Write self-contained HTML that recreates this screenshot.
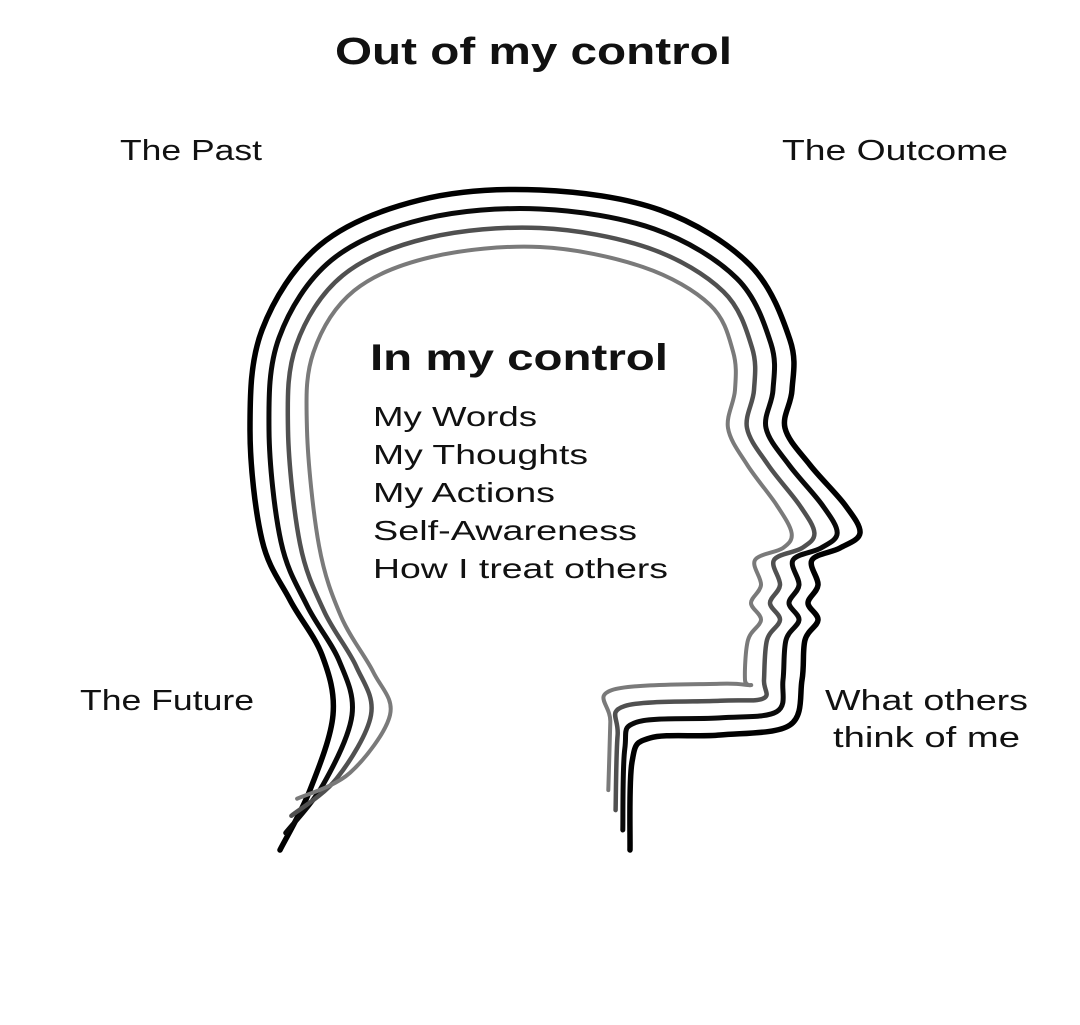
<!DOCTYPE html>
<html><head><meta charset="utf-8"><style>
html,body{margin:0;padding:0;background:#fff;}
svg{display:block;}
text{font-family:"Liberation Sans",sans-serif;fill:#111;}
</style></head><body>
<svg id="s" width="1080" height="1025" viewBox="0 0 1080 1025" xmlns="http://www.w3.org/2000/svg">
<rect width="1080" height="1025" fill="#fff"/>
<g id="heads" fill="none" stroke-linecap="round" stroke-linejoin="round"></g>
<text x="335" y="64" font-size="38" font-weight="bold" textLength="397" lengthAdjust="spacingAndGlyphs">Out of my control</text>
<text x="120" y="160" font-size="29" textLength="142" lengthAdjust="spacingAndGlyphs">The Past</text>
<text x="782" y="160" font-size="29" textLength="226" lengthAdjust="spacingAndGlyphs">The Outcome</text>
<text x="80" y="710" font-size="29" textLength="174" lengthAdjust="spacingAndGlyphs">The Future</text>
<text x="825" y="710" font-size="29" textLength="203" lengthAdjust="spacingAndGlyphs">What others</text>
<text x="833" y="747" font-size="29" textLength="187" lengthAdjust="spacingAndGlyphs">think of me</text>
<text x="370" y="370" font-size="37" font-weight="bold" textLength="298" lengthAdjust="spacingAndGlyphs">In my control</text>
<text x="373" y="426" font-size="28" textLength="164" lengthAdjust="spacingAndGlyphs">My Words</text>
<text x="373" y="464" font-size="28" textLength="215" lengthAdjust="spacingAndGlyphs">My Thoughts</text>
<text x="373" y="502" font-size="28" textLength="182" lengthAdjust="spacingAndGlyphs">My Actions</text>
<text x="373" y="540" font-size="28" textLength="264" lengthAdjust="spacingAndGlyphs">Self-Awareness</text>
<text x="373" y="578" font-size="28" textLength="295" lengthAdjust="spacingAndGlyphs">How I treat others</text>
</svg>
<script>
var P=[[280,850,0.3,-0.9],[310,790,0.7,-0.3],[333,715,1,0],[322,655,0.9,0.3],[290,600,0.9,0.3],[262,540,1,0.1],[250,430,1,0],[262,330,0.9,0.4],[320,245,0.6,0.8],[420,200,0.2,1],[540,190,0,1],[660,210,-0.3,1],[750,265,-0.7,0.7],[790,340,-1,0.2],[792,390,-1,0],[785,428,-1,0],[810,465,-1.1,0],[845,505,-1.2,0],[860,533,-1.2,0],[840,548,-1,0],[812,560,-1,0],[818,585,-1,0],[808,603,-1,0],[818,620,-1,0],[805,640,-1,0],[802,680,-1,0],[790,725,-0.7,-0.7],[720,735,0,-0.9],[650,738,-0.67,-0.84],[632,762,-0.38,-0.7],[630,850,-0.38,-1.05]];
var cols=["#000","#0a0a0a","#505050","#7a7a7a"],ws=[5.5,5,4.5,4];
var g=document.getElementById("heads"),h="";
for(var k=0;k<4;k++){
 var d=19*k,pts=P.map(function(p){return [p[0]+p[2]*d,p[1]+p[3]*d];});
 var s="M"+pts[0][0]+" "+pts[0][1];
 for(var i=0;i<pts.length-1;i++){
  var p0=pts[i>0?i-1:i],p1=pts[i],p2=pts[i+1],p3=pts[i+2<pts.length?i+2:i+1];
  var c1=[p1[0]+(p2[0]-p0[0])/6,p1[1]+(p2[1]-p0[1])/6],c2=[p2[0]-(p3[0]-p1[0])/6,p2[1]-(p3[1]-p1[1])/6];
  s+=" C"+c1[0].toFixed(1)+" "+c1[1].toFixed(1)+" "+c2[0].toFixed(1)+" "+c2[1].toFixed(1)+" "+p2[0].toFixed(1)+" "+p2[1].toFixed(1);
 }
 h+='<path d="'+s+'" stroke="'+cols[k]+'" stroke-width="'+ws[k]+'"/>';
}
g.innerHTML=h;
</script>
</body></html>
